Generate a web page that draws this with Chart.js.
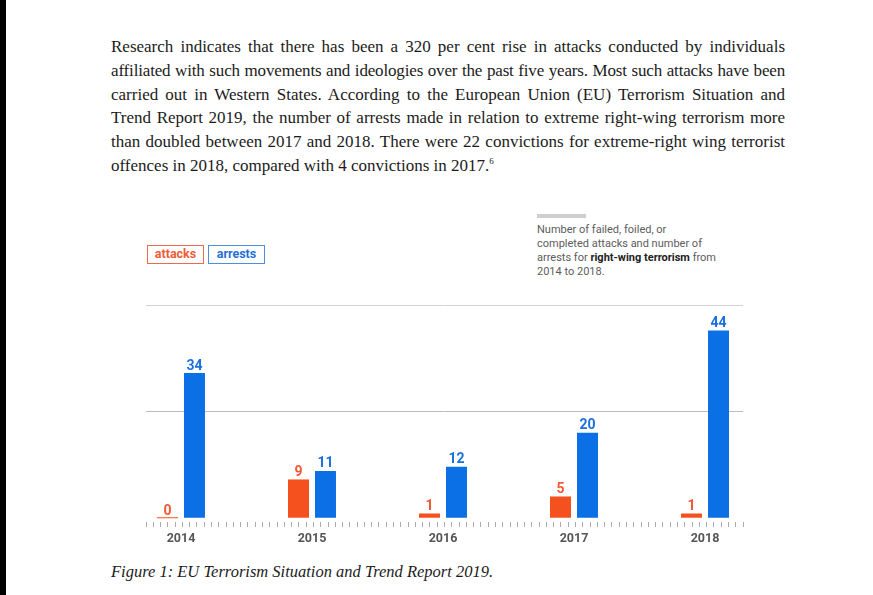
<!DOCTYPE html>
<html>
<head>
<meta charset="utf-8">
<script src="https://cdn.jsdelivr.net/npm/chart.js@4/dist/chart.umd.min.js"></script>
<style>
html,body{margin:0;padding:0;background:#fff;}
body{width:873px;height:595px;position:relative;overflow:hidden;}
#strip{position:absolute;left:0;top:0;width:6px;height:595px;background:#000;}
#para{position:absolute;left:111px;top:35px;width:674px;font-family:"Liberation Serif",serif;font-size:17px;line-height:23.8px;color:#1b1b1b;}
#para div{text-align:justify;text-align-last:justify;white-space:nowrap;}
#para div.tight{letter-spacing:-0.16px;word-spacing:-1px;}
#para div.last{text-align-last:left;}
#para sup{font-size:9px;vertical-align:7px;line-height:0;}
#caption{position:absolute;left:111px;top:562px;font-family:"Liberation Serif",serif;font-style:italic;font-size:16.5px;line-height:20px;color:#1b1b1b;white-space:nowrap;}
.lg{position:absolute;top:245px;height:19px;width:57px;box-sizing:border-box;font-family:Roboto,sans-serif;font-weight:bold;font-size:12.5px;line-height:16px;text-align:center;}
#lgA{left:147px;border:1.5px solid #ef6a4c;color:#ef5a37;}
#lgB{left:208px;border:1.5px solid #4a8fe0;color:#1f6fd6;}
#note{position:absolute;left:537px;top:223px;font-family:Roboto,sans-serif;font-size:11px;line-height:14px;color:#5c5c5c;white-space:nowrap;}
#note b{color:#222;}
#notebar{position:absolute;left:537px;top:214px;width:49px;height:4px;background:#cfcfcf;}
#wrap{position:absolute;left:100px;top:290px;width:700px;height:270px;}
</style>
</head>
<body>
<div id="strip"></div>
<div id="para">
<div>Research indicates that there has been a 320 per cent rise in attacks conducted by individuals</div>
<div class="tight">affiliated with such movements and ideologies over the past five years. Most such attacks have been</div>
<div>carried out in Western States. According to the European Union (EU) Terrorism Situation and</div>
<div>Trend Report 2019, the number of arrests made in relation to extreme right-wing terrorism more</div>
<div>than doubled between 2017 and 2018. There were 22 convictions for extreme-right wing terrorist</div>
<div class="last">offences in 2018, compared with 4 convictions in 2017.<sup>6</sup></div>
</div>
<div class="lg" id="lgA">attacks</div>
<div class="lg" id="lgB">arrests</div>
<div id="notebar"></div>
<div id="note">Number of failed, foiled, or<br>completed attacks and number of<br>arrests for <b>right-wing terrorism</b> from<br>2014 to 2018.</div>
<div id="wrap"><canvas id="c" width="700" height="270"></canvas></div>
<div id="caption">Figure 1: EU Terrorism Situation and Trend Report 2019.</div>
<script>
const years = [2014, 2015, 2016, 2017, 2018];
const attacks = [0, 9, 1, 5, 1];
const arrests = [34, 11, 12, 20, 44];
const gridValues = [25, 50];
const seriesNames = ['attacks', 'arrests'];
const barColors = ['#f4511e', '#0b6fe6'];
const labelColors = ['#f05a34', '#1a70dc'];

const labelPlugin = {
  id: 'vlabels',
  afterDatasetsDraw(chart) {
    const c = chart.ctx;
    chart.data.datasets.forEach((ds, di) => {
      const meta = chart.getDatasetMeta(di);
      meta.data.forEach((bar, i) => {
        const v = ds.data[i].y;
        c.save();
        c.font = 'bold 14px Roboto';
        c.fillStyle = labelColors[di];
        c.textAlign = 'center';
        c.textBaseline = 'alphabetic';
        c.fillText(String(v), bar.x, bar.y - 3.5);
        c.restore();
      });
    });
  }
};

new Chart(document.getElementById('c'), {
  type: 'bar',
  data: {
    datasets: [
      { label: seriesNames[0], data: years.map((y, i) => ({ x: y, y: attacks[i] })), backgroundColor: barColors[0], minBarLength: 1 },
      { label: seriesNames[1], data: years.map((y, i) => ({ x: y, y: arrests[i] })), backgroundColor: barColors[1] }
    ]
  },
  options: {
    responsive: false,
    animation: false,
    events: [],
    categoryPercentage: 54 / 131,
    barPercentage: 21 / 27,
    layout: { padding: { left: 46, right: 57, top: 15, bottom: 10 } },
    plugins: { legend: { display: false }, tooltip: { enabled: false } },
    scales: {
      x: {
        type: 'linear', position: 'bottom', weight: 1, offset: false,
        min: 2013.733, max: 2018.29,
        afterBuildTicks: s => { s.ticks = years.map(v => ({ value: v })); },
        ticks: { callback: v => String(v), font: { family: 'Roboto', weight: 'bold', size: 12.5 }, color: '#555', padding: 4, maxRotation: 0, autoSkip: false },
        grid: { display: false, drawTicks: false, offset: false },
        border: { display: false }
      },
      xm: {
        type: 'linear', position: 'bottom', weight: 0, offset: false,
        min: 0, max: 82,
        ticks: { display: false, stepSize: 1, autoSkip: false },
        grid: { drawOnChartArea: false, drawTicks: true, tickLength: 5, color: '#aaaaaa', lineWidth: 1, offset: false },
        border: { display: false }
      },
      y: {
        min: -1, max: 50,
        afterBuildTicks: s => { s.ticks = gridValues.map(v => ({ value: v })); },
        ticks: { display: false },
        grid: { drawTicks: false, lineWidth: 1, color: ctx => (ctx.tick && ctx.tick.value === 50) ? '#d2d2d2' : '#bcbcbc' },
        border: { display: false }
      }
    }
  },
  plugins: [labelPlugin]
});
</script>
</body>
</html>
